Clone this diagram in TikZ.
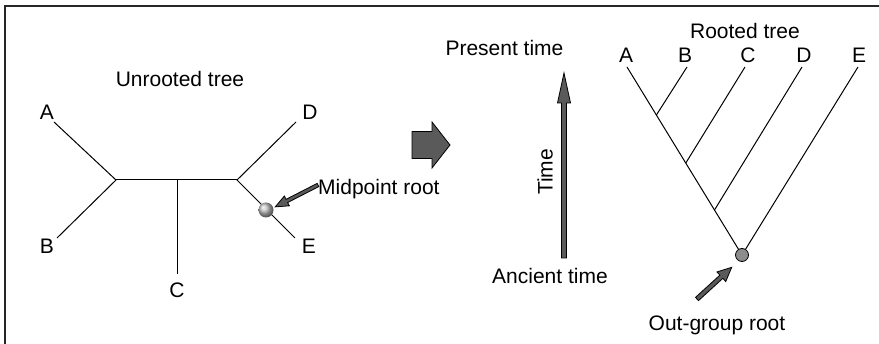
\documentclass[tikz,border=0pt]{standalone}
\usepackage{fontspec}
\setmainfont{Liberation Sans}
\definecolor{arrowgray}{HTML}{5A5A5A}
\definecolor{rootgray}{HTML}{8C8C8C}
\newcommand\myblockarrow[6]{% tail, angle, length, shaft half, head half, head length
  \draw[blockarr, shift={#1}, rotate=#2]
    (0,-#4) -- ({#3-#6},-#4) -- ({#3-#6},-#5) -- (#3,0) -- ({#3-#6},#5) -- ({#3-#6},#4) -- (0,#4) -- cycle;}
\begin{document}
\begin{tikzpicture}[x=1pt,y=-1pt,
  lbl/.style={inner sep=0pt, font=\fontsize{21}{25}\selectfont},
  branch/.style={line width=1pt, black},
  blockarr/.style={fill=arrowgray, draw=black, line width=0.8pt, line join=miter}]
\useasboundingbox (0,0) rectangle (879,344);
\fill[white] (0,0) rectangle (879,344);
\draw[line width=1.2pt, black!85] (5,344) -- (5,6) -- (879,6);

% ---- unrooted tree ----
\node[lbl] (ut) at (180,79) {Unrooted tree};
\node[lbl] (lA) at (47,112) {A};
\node[lbl] (lB) at (47,246) {B};
\node[lbl] (lC) at (177,290) {C};
\node[lbl] (lD) at (310,112) {D};
\node[lbl] (lE) at (309,246) {E};
\coordinate (eA) at (54,122);
\coordinate (eB) at (57,238);
\coordinate (eC) at (177,274);
\coordinate (eD) at (296,122);
\coordinate (eE) at (295,238);
\coordinate (n1) at (116,180);
\coordinate (n2) at (177,180);
\coordinate (n3) at (237,180);
\draw[branch] (eA) -- (n1) -- (eB);
\draw[branch] (n1) -- (n3);
\draw[branch] (n2) -- (eC);
\draw[branch] (eD) -- (n3) -- (eE);
\node[circle, minimum size=15pt, inner sep=0pt, shading=ball, ball color=black!25] (mid) at (266,210) {};
\node[lbl, anchor=west] (midlbl) at (318,189) {Midpoint root};
\myblockarrow{(318,185)}{207.1}{48}{1.8}{5.5}{13}

% ---- big arrow ----
\myblockarrow{(412,145)}{0}{38}{13.5}{23}{18}

% ---- time axis ----
\node[lbl] (pt) at (504.5,48) {Present time};
\node[lbl] (at) at (550,276) {Ancient time};
\node[lbl, rotate=90] (tm) at (545,172) {Time};
\myblockarrow{(564,258)}{90}{185}{2.5}{6.5}{30}

% ---- rooted tree ----
\node[lbl] (rt) at (745,31) {Rooted tree};
\node[lbl] (rA) at (626,55) {A};
\node[lbl] (rB) at (685,55) {B};
\node[lbl] (rC) at (748,55) {C};
\node[lbl] (rD) at (804,55) {D};
\node[lbl] (rE) at (859,55) {E};
\coordinate (tA) at (627,67);
\coordinate (tB) at (687,67);
\coordinate (tC) at (745,67);
\coordinate (tD) at (802,67);
\coordinate (tE) at (858,67);
\coordinate (jB) at (656.4,115);
\coordinate (jC) at (685.8,163);
\coordinate (jD) at (714.5,210);
\coordinate (root) at (742,255);
\draw[branch] (tA) -- (root) -- (tE);
\draw[branch] (tB) -- (jB);
\draw[branch] (tC) -- (jC);
\draw[branch] (tD) -- (jD);
\node[circle, minimum size=13pt, inner sep=0pt, fill=rootgray, draw=black, line width=0.8pt] (rootdot) at (root) {};
\node[lbl] (og) at (717,325) {Out-group root};
\myblockarrow{(697,299)}{42.4}{47}{2.2}{6.5}{14}
\end{tikzpicture}
\end{document}
